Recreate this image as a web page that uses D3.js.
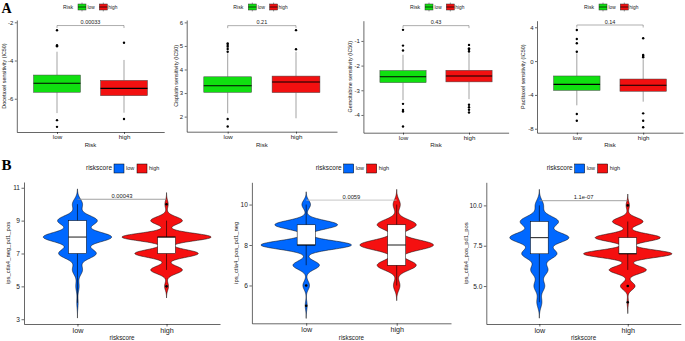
<!DOCTYPE html>
<html>
<head>
<meta charset="utf-8">
<script src="https://cdn.jsdelivr.net/npm/d3@7"></script>
<style>
  body { margin: 0; background: #fff; }
  svg { display: block; font-family: "Liberation Sans", Arial, sans-serif; }
</style>
</head>
<body>
<svg id="fig" width="685" height="341"></svg>
<script>
const groups = ["low", "high"];

// ---- panel A: boxplot summaries [lower whisker, q1, median, q3, upper whisker]
const drugNames = ["Docetaxel", "Cisplatin", "Gemcitabine", "Paclitaxel"];
const docetaxelLow = [-6.75, -5.66, -5.19, -4.76, -3.54];
const docetaxelHigh = [-6.73, -5.84, -5.46, -5.04, -3.97];
const docetaxelOutLow = [-2.42, -3.20, -3.25, -7.12, -7.47];
const docetaxelOutHigh = [-3.07, -7.06];
const cisplatinLow = [2.14, 3.03, 3.31, 3.69, 4.69];
const cisplatinHigh = [1.93, 3.02, 3.47, 3.72, 4.75];
const cisplatinOutLow = [5.11, 5.04, 4.97, 4.87, 4.75, 1.90, 1.58];
const cisplatinOutHigh = [5.67, 4.86];
const gemcitabineLow = [-3.40, -2.69, -2.45, -2.20, -1.56];
const gemcitabineHigh = [-3.36, -2.66, -2.42, -2.19, -1.50];
const gemcitabineOutLow = [-0.55, -1.19, -1.39, -3.55, -3.80, -3.86, -4.47];
const gemcitabineOutHigh = [-1.16, -1.30, -1.36, -1.43, -3.59, -3.69, -3.79, -3.90];
const paclitaxelLow = [-5.23, -3.46, -2.75, -1.76, 0.92];
const paclitaxelHigh = [-4.80, -3.57, -2.86, -2.12, 0.21];
const paclitaxelOutLow = [3.68, 2.62, 2.11, 1.11, -6.26, -7.05];
const paclitaxelOutHigh = [2.70, 0.72, 0.60, 0.45, -6.18, -7.05, -7.83];
const pValuesA = ["0.00033", "0.21", "0.43", "0.14"];
const bracketA = [-2.17, 5.86, -0.38, 4.27];
const domainsA = [[-7.74, -1.88], [1.36, 6.10], [-4.72, -0.18], [-8.47, 4.78]];
const ticksA = [[-6, -4, -2], [2, 3, 4, 5, 6], [-4, -3, -2, -1], [-8, -4, 0, 4]];

// ---- panel B: IPS score counts per group (scores 4..10)
const scores = [4, 5, 6, 7, 8, 9, 10];
const ipsNames = ["ips_ctla4_neg_pd1_pos", "ips_ctla4_pos_pd1_neg", "ips_ctla4_pos_pd1_pos"];
const negPosLow = [2, 5, 15, 56, 102, 59, 15];
const negPosHigh = [0, 6, 48, 96, 135, 48, 5];
const posNegLow = [0, 3, 10, 40, 137, 95, 13];
const posNegHigh = [0, 0, 10, 60, 113, 60, 11];
const posPosLow = [8, 17, 27, 55, 93, 60, 13];
const posPosHigh = [2, 22, 56, 133, 98, 46, 5];
const bandwidthsB = [[0.31, 0.235], [0.21, 0.25], [0.33, 0.235]];
const pValuesB = ["0.00043", "0.0059", "1.1e-07"];
const bracketB = [10.30, 10.22, 10.29];
const domainsB = [[2.71, 11.35], [4.13, 11.10], [2.65, 11.43]];
const ticksB = [[3, 5, 7, 9, 11], [6, 8, 10], [5, 7.5, 10]];

const svg = d3.select("#fig");
const greenRed = ["#10e010", "#f21010"];
const blueRed = ["#0068ff", "#f51010"];

function styleAxis(ax, size) {
  ax.select(".domain").attr("stroke", "#000").attr("stroke-width", 0.6);
  ax.selectAll(".tick line").attr("stroke", "#000").attr("stroke-width", 0.6);
  ax.selectAll("text").attr("font-size", size).attr("fill", "#222").attr("font-family", null);
}

function drawLegend(x0, y0, title, colors, big, boxKey) {
  const g = svg.append("g");
  const fs = big ? 5.5 : 4.8;
  const kw = big ? 10 : 8, kh = big ? 9 : 6;
  const off = big ? [28, 40, 51, 63] : [15, 24.5, 36.3, 45.3];
  g.append("text").attr("x", x0).attr("y", y0 + fs * 0.35)
    .attr("font-size", big ? 6.5 : 5.2).attr("fill", "#222").text(title);
  groups.forEach((grp, i) => {
    const kx = x0 + off[i * 2];
    if (boxKey) {
      g.append("line").attr("x1", kx + kw / 2).attr("x2", kx + kw / 2)
        .attr("y1", y0 - kh / 2 - 1.4).attr("y2", y0 + kh / 2 + 1.4)
        .attr("stroke", "#333").attr("stroke-width", 0.5);
    }
    g.append("rect").attr("x", kx).attr("y", y0 - kh / 2).attr("width", kw).attr("height", kh)
      .attr("fill", colors[i]).attr("stroke", boxKey ? "#333" : "#000").attr("stroke-width", 0.5);
    if (boxKey) {
      g.append("line").attr("x1", kx).attr("x2", kx + kw).attr("y1", y0).attr("y2", y0)
        .attr("stroke", "#000").attr("stroke-width", 0.7);
    }
    g.append("text").attr("x", x0 + off[i * 2 + 1]).attr("y", y0 + fs * 0.35)
      .attr("font-size", fs).attr("fill", "#222").text(grp);
  });
}

// ---------------- row A ----------------
const layoutA = [
  { left: 16.8, right: 164.2, top: 20, bottom: 132, titleX: 4.5, legendX: 63 },
  { left: 186.7, right: 337, top: 20, bottom: 131.7, titleX: 176.5, legendX: 233.3 },
  { left: 363.4, right: 508.6, top: 20.7, bottom: 132.7, titleX: 350.5, legendX: 410 },
  { left: 537, right: 683, top: 20.7, bottom: 132.7, titleX: 523, legendX: 584 }
];
const statsA = [
  [docetaxelLow, docetaxelHigh], [cisplatinLow, cisplatinHigh],
  [gemcitabineLow, gemcitabineHigh], [paclitaxelLow, paclitaxelHigh]
];
const outA = [
  [docetaxelOutLow, docetaxelOutHigh], [cisplatinOutLow, cisplatinOutHigh],
  [gemcitabineOutLow, gemcitabineOutHigh], [paclitaxelOutLow, paclitaxelOutHigh]
];

layoutA.forEach((L, p) => {
  const g = svg.append("g");
  const x = d3.scalePoint().domain(groups).range([L.left, L.right]).padding(0.6);
  const y = d3.scaleLinear().domain(domainsA[p]).range([L.bottom, L.top]);
  const bw = x.step() * 0.7;

  groups.forEach((grp, i) => {
    const [wl, q1, med, q3, wh] = statsA[p][i];
    const cx = x(grp);
    g.append("line").attr("x1", cx).attr("x2", cx).attr("y1", y(wh)).attr("y2", y(q3))
      .attr("stroke", "#444").attr("stroke-width", 0.5);
    g.append("line").attr("x1", cx).attr("x2", cx).attr("y1", y(q1)).attr("y2", y(wl))
      .attr("stroke", "#444").attr("stroke-width", 0.5);
    g.append("rect").attr("x", cx - bw / 2).attr("y", y(q3)).attr("width", bw)
      .attr("height", y(q1) - y(q3)).attr("fill", greenRed[i])
      .attr("stroke", "#444").attr("stroke-width", 0.5);
    g.append("line").attr("x1", cx - bw / 2).attr("x2", cx + bw / 2).attr("y1", y(med)).attr("y2", y(med))
      .attr("stroke", "#000").attr("stroke-width", 1.1);
    g.selectAll(null).data(outA[p][i]).join("circle")
      .attr("cx", cx).attr("cy", d => y(d)).attr("r", 1.2).attr("fill", "#000");
  });

  // significance bracket
  const by = y(bracketA[p]);
  g.append("path").attr("d", `M${x("low")},${by + 2.5}V${by}H${x("high")}V${by + 2.5}`)
    .attr("fill", "none").attr("stroke", "#333").attr("stroke-width", 0.4);
  g.append("text").attr("x", (x("low") + x("high")) / 2).attr("y", by - 1.3)
    .attr("text-anchor", "middle").attr("font-size", 5.5).attr("fill", "#222").text(pValuesA[p]);

  const ay = g.append("g").attr("transform", `translate(${L.left},0)`)
    .call(d3.axisLeft(y).tickValues(ticksA[p]).tickFormat(d => String(d)).tickSize(2).tickSizeOuter(0).tickPadding(1.5));
  styleAxis(ay, 6);
  const ax = g.append("g").attr("transform", `translate(0,${L.bottom})`)
    .call(d3.axisBottom(x).tickSize(2).tickSizeOuter(0).tickPadding(1));
  styleAxis(ax, 6.2);

  g.append("text").attr("x", (L.left + L.right) / 2).attr("y", 146.5)
    .attr("text-anchor", "middle").attr("font-size", 6).attr("fill", "#222").text("Risk");
  g.append("text").attr("transform", `translate(${L.titleX},${(L.top + L.bottom) / 2}) rotate(-90)`)
    .attr("dy", "0.35em").attr("text-anchor", "middle").attr("font-size", 5.4).attr("fill", "#222")
    .text(`${drugNames[p]} sensitivity (IC50)`);

  drawLegend(L.legendX, 7, "Risk", greenRed, false, true);
});

// ---------------- row B ----------------
const layoutB = [
  { left: 24, right: 220, top: 182, bottom: 324, titleX: 7.5, legendX: 86 },
  { left: 251.9, right: 451, top: 182.3, bottom: 323.3, titleX: 236, legendX: 315.7 },
  { left: 486.3, right: 680.8, top: 182.3, bottom: 324, titleX: 466, legendX: 546.7 }
];
const countsB = [[negPosLow, negPosHigh], [posNegLow, posNegHigh], [posPosLow, posPosHigh]];

function kde(counts, h) {
  const n = d3.sum(counts);
  const present = scores.filter((s, i) => counts[i] > 0);
  const lo = d3.min(present) - 3 * h, hi = d3.max(present) + 3 * h;
  return d3.range(0, 301).map(j => {
    const v = lo + (hi - lo) * j / 300;
    const dens = d3.sum(scores, (s, i) => counts[i] * Math.exp(-0.5 * ((v - s) / h) ** 2));
    return [v, dens / (n * h * Math.sqrt(2 * Math.PI))];
  });
}

function boxStats(counts) {
  const data = scores.flatMap((s, i) => d3.range(counts[i]).map(() => s));
  const q1 = d3.quantileSorted(data, 0.25);
  const med = d3.quantileSorted(data, 0.5);
  const q3 = d3.quantileSorted(data, 0.75);
  const f = 1.5 * (q3 - q1);
  const inside = data.filter(v => v >= q1 - f && v <= q3 + f);
  const out = Array.from(new Set(data.filter(v => v < q1 - f || v > q3 + f)));
  return { q1, med, q3, lo: d3.min(inside), hi: d3.max(inside), out };
}

layoutB.forEach((L, p) => {
  const g = svg.append("g");
  const x = d3.scalePoint().domain(groups).range([L.left, L.right]).padding(0.6);
  const y = d3.scaleLinear().domain(domainsB[p]).range([L.bottom, L.top]);
  const dens = groups.map((grp, i) => kde(countsB[p][i], bandwidthsB[p][i]));
  const w = d3.scaleLinear().domain([0, d3.max(dens.flat(), d => d[1])]).range([0, x.step() * 0.5]);
  const bw = x.step() * 0.2;

  groups.forEach((grp, i) => {
    const cx = x(grp);
    const area = d3.area().y(d => y(d[0])).x0(d => cx - w(d[1])).x1(d => cx + w(d[1]));
    g.append("path").attr("d", area(dens[i])).attr("fill", blueRed[i])
      .attr("stroke", "#000").attr("stroke-width", 0.5);
    const s = boxStats(countsB[p][i]);
    g.append("line").attr("x1", cx).attr("x2", cx).attr("y1", y(s.hi)).attr("y2", y(s.lo))
      .attr("stroke", "#000").attr("stroke-width", 0.6);
    g.append("rect").attr("x", cx - bw / 2).attr("y", y(s.q3)).attr("width", bw)
      .attr("height", y(s.q1) - y(s.q3)).attr("fill", "#fff")
      .attr("stroke", "#000").attr("stroke-width", 0.5);
    g.append("line").attr("x1", cx - bw / 2).attr("x2", cx + bw / 2).attr("y1", y(s.med)).attr("y2", y(s.med))
      .attr("stroke", "#000").attr("stroke-width", 0.9);
    g.selectAll(null).data(s.out).join("circle")
      .attr("cx", cx).attr("cy", d => y(d)).attr("r", 1.3).attr("fill", "#000");
  });

  const by = y(bracketB[p]);
  g.append("path").attr("d", `M${x("low")},${by}H${x("high")}`)
    .attr("fill", "none").attr("stroke", p === 1 ? "#b8b8b8" : "#8a8a8a").attr("stroke-width", 0.8);
  g.append("text").attr("x", (x("low") + x("high")) / 2).attr("y", by - 1.6)
    .attr("text-anchor", "middle").attr("font-size", 5.8).attr("fill", "#222").text(pValuesB[p]);

  const fmt = p === 2 ? d3.format(".1f") : (d => String(d));
  const ay = g.append("g").attr("transform", `translate(${L.left},0)`)
    .call(d3.axisLeft(y).tickValues(ticksB[p]).tickFormat(fmt).tickSize(2.5).tickSizeOuter(0).tickPadding(1.5));
  styleAxis(ay, 6.6);
  const ax = g.append("g").attr("transform", `translate(0,${L.bottom})`)
    .call(d3.axisBottom(x).tickSize(2.5).tickSizeOuter(0).tickPadding(1.5));
  styleAxis(ax, 7.2);

  g.append("text").attr("x", (L.left + L.right) / 2).attr("y", 339.5)
    .attr("text-anchor", "middle").attr("font-size", 6.3).attr("fill", "#222").text("riskscore");
  g.append("text").attr("transform", `translate(${L.titleX},${(L.top + L.bottom) / 2}) rotate(-90)`)
    .attr("dy", "0.35em").attr("text-anchor", "middle").attr("font-size", 5.9).attr("fill", "#222")
    .text(ipsNames[p]);

  drawLegend(L.legendX, 168.5, "riskscore", blueRed, true, false);
});

// panel letters
svg.append("text").attr("x", 1.5).attr("y", 12.8).attr("font-family", "'Liberation Serif', 'Times New Roman', serif")
  .attr("font-weight", "bold").attr("font-size", 14).text("A");
svg.append("text").attr("x", 1.5).attr("y", 170).attr("font-family", "'Liberation Serif', 'Times New Roman', serif")
  .attr("font-weight", "bold").attr("font-size", 15).text("B");
</script>
</body>
</html>
